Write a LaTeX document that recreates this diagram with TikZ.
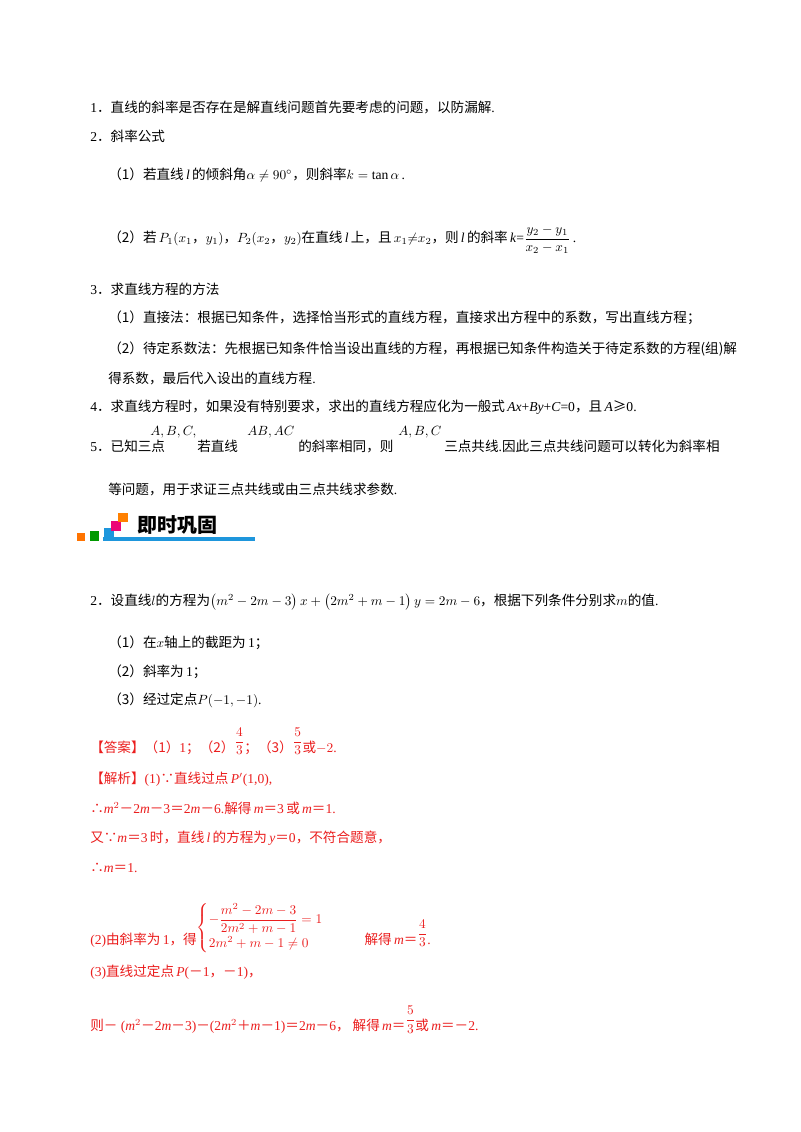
\documentclass[tikz,border=0pt]{standalone}
\usepackage{amsmath,amssymb}
\usepackage{fontspec}
\setmainfont{Liberation Serif}
\newfontfamily\cjk{Noto Sans CJK SC}
\definecolor{ans}{RGB}{235,30,30}
\definecolor{bblue}{RGB}{30,150,220}
\newcommand{\Zc}[1]{{\cjk #1}}
\newcommand{\Zeq}{{\cjk ＝}}
\newcommand{\Zmi}{{\cjk －}}
\newcommand{\Zpl}{{\cjk ＋}}
\newcommand{\Zup}[1]{\raisebox{1.1ex}{$\dfrac{#1}{3}$}}
\begin{document}
\begin{tikzpicture}[x=0.75pt,y=-0.75pt,
  t/.style={anchor=west,inner sep=0pt,font=\fontsize{10.2}{12}\selectfont},
  r/.style={t,text=ans}]
\useasboundingbox (0,0) rectangle (800,1132);
\fill[white] (0,0) rectangle (800,1132);
\node[t] (l1) at (90,107) {1\Zc{．直线的斜率是否存在是解直线问题首先要考虑的问题，以防漏解}.};
\node[t] (l2) at (90,136) {2\Zc{．斜率公式}};
\node[t] (l21) at (108,175) {\Zc{（1）若直线}\,\textit{l}\,\Zc{的倾斜角}$\alpha\neq 90^\circ$\Zc{，则斜率}$k=\tan\alpha$\,.};
\node[t] (l22) at (108,240) {\Zc{（2）若}\,$P_1(x_1$\Zc{，}$y_1)$\Zc{，}$P_2(x_2$\Zc{，}$y_2)$\Zc{在直线}\,\textit{l}\,\Zc{上，且}\,$x_1{\neq}x_2$\Zc{，则}\,\textit{l}\,\Zc{的斜率}\,\textit{k}=$\dfrac{y_2-y_1}{x_2-x_1}$\,.};
\node[t] (l3) at (90,289) {3\Zc{．求直线方程的方法}};
\node[t] (l31) at (108,318) {\Zc{（1）直接法：根据已知条件，选择恰当形式的直线方程，直接求出方程中的系数，写出直线方程；}};
\node[t] (l32) at (108,349) {\Zc{（2）待定系数法：先根据已知条件恰当设出直线的方程，再根据已知条件构造关于待定系数的方程(组)解}};
\node[t] (l33) at (108,378) {\Zc{得系数，最后代入设出的直线方程}.};
\node[t] (l4) at (90,407) {4\Zc{．求直线方程时，如果没有特别要求，求出的直线方程应化为一般式}\,\textit{Ax}+\textit{By}+\textit{C}=0\Zc{，且}\,\textit{A}\Zc{≥}0.};
\node[t] (l5a) at (90,446) {5\Zc{．已知三点}};
\node[t] (l5b) at (150,432) {$A,B,C,$};
\node[t] (l5c) at (197,446) {\Zc{若直线}};
\node[t] (l5d) at (247,432) {$AB,AC$};
\node[t] (l5e) at (298,446) {\Zc{的斜率相同，则}};
\node[t] (l5f) at (398,432) {$A,B,C$};
\node[t] (l5g) at (444,446) {\Zc{三点共线}.\Zc{因此三点共线问题可以转化为斜率相}};
\node[t] (l5h) at (108,489) {\Zc{等问题，用于求证三点共线或由三点共线求参数}.};
% banner
\fill[orange!90!red] (77,533) rectangle (85,541);
\fill[green!60!black] (90,531) rectangle (99,541);
\fill[bblue] (104,528) rectangle (114,541);
\fill[bblue] (103,537) rectangle (255,541);
\fill[magenta!80!red] (111,521) rectangle (121,531);
\fill[orange] (118,513) rectangle (128,522);
\node[t,font=\fontsize{15}{16}\selectfont\bfseries] (ban) at (137,525) {\cjk 即时巩固};
\node[t] (q) at (90,602) {2\Zc{．设直线}$l$\Zc{的方程为}$\left(m^2-2m-3\right)x+\left(2m^2+m-1\right)y=2m-6$\Zc{，根据下列条件分别求}$m$\Zc{的值}.};
\node[t] (q1) at (108,643) {\Zc{（1）在}$x$\Zc{轴上的截距为}\,1\Zc{；}};
\node[t] (q2) at (108,672) {\Zc{（2）斜率为}\,1\Zc{；}};
\node[t] (q3) at (108,700) {\Zc{（3）经过定点}$P(-1,-1)$.};
\node[r] (a0) at (90,741) {\Zc{【答案】（1）}1\Zc{；（2）}\Zup{4}\Zc{；（3）}\Zup{5}\Zc{或}$-2$.};
\node[r] (a1) at (90,779) {\Zc{【解析】}(1)\Zc{∵直线过点}\,\textit{P}$'$(1,0),};
\node[r] (a2) at (90,808) {\Zc{∴}\textit{m}$^2$\Zmi2\textit{m}\Zmi3\Zeq2\textit{m}\Zmi6.\Zc{解得}\,\textit{m}\Zeq3\,\Zc{或}\,\textit{m}\Zeq1.};
\node[r] (a3) at (90,838) {\Zc{又∵}\textit{m}\Zeq3\,\Zc{时，直线}\,\textit{l}\,\Zc{的方程为}\,\textit{y}\Zeq0\Zc{，不符合题意，}};
\node[r] (a4) at (90,868) {\Zc{∴}\textit{m}\Zeq1.};
\node[r,anchor=base west] (a5) at (90,944) {(2)\Zc{由斜率为}\,1\Zc{，得}\raisebox{2ex}{$\left\{\begin{array}{@{}l@{}}-\dfrac{m^2-2m-3}{2m^2+m-1}=1\\[6pt] 2m^2+m-1\neq 0\end{array}\right.$}\hspace{3em}\Zc{解得}\,\textit{m}\Zeq\Zup{4}.};
\node[r] (a6) at (90,972) {(3)\Zc{直线过定点}\,\textit{P}(\Zmi1\Zc{，}\Zmi1)\Zc{，}};
\node[r] (a7) at (90,1020) {\Zc{则}\Zmi\ (\textit{m}$^2$\Zmi2\textit{m}\Zmi3)\Zmi(2\textit{m}$^2$\Zpl\textit{m}\Zmi1)\Zeq2\textit{m}\Zmi6\Zc{，\ 解得}\,\textit{m}\Zeq\Zup{5}\Zc{或}\,\textit{m}\Zeq\Zmi2.};
\end{tikzpicture}
\end{document}
